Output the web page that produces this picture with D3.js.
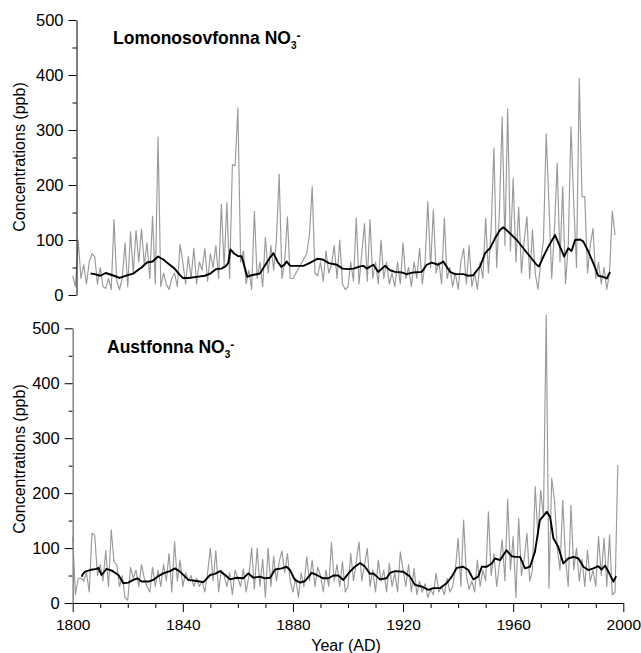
<!DOCTYPE html>
<html><head><meta charset="utf-8">
<script src="https://cdn.jsdelivr.net/npm/d3@7"></script>
<style>
body{margin:0;background:#fff}
svg{display:block}
text{font-family:"Liberation Sans",Arial,sans-serif;fill:#000}
</style>
</head><body>
<svg id="c" width="641" height="653"></svg>
<script>
// ---------- DATA ----------
const startYear = 1800;
// Lomonosovfonna NO3- annual values (ppb), 1800..1997 (null = no sample)
const lomoValues = [
 35,15,100,30,55,20,60,75,70,20,
 50,15,12,30,10,137,25,10,30,95,
 15,115,40,117,60,120,55,95,30,143,
 20,287,15,40,20,10,30,40,15,92,
 60,20,70,30,85,20,60,45,85,25,
 75,50,90,30,165,50,168,30,237,235,
 340,60,80,20,45,10,152,30,60,15,
 105,40,90,45,100,220,30,60,142,30,
 30,null,null,null,null,75,110,197,40,35,
 60,25,80,40,55,90,30,100,20,10,
 15,60,25,140,20,75,130,25,137,30,
 60,20,100,30,60,20,40,15,60,20,
 95,30,50,15,60,30,85,20,60,170,
 50,155,40,60,20,140,30,50,15,40,
 10,60,85,20,90,15,40,10,60,30,
 140,40,120,267,50,150,324,90,338,80,
 212,60,160,40,100,142,30,118,40,10,
 60,100,293,164,30,120,240,60,197,20,
 90,306,167,50,394,179,179,40,90,121,
 30,60,20,50,10,40,152,109
];
// Austfonna NO3- annual values (ppb), 1800..1998
const austValues = [
 120,15,45,45,40,55,20,127,123,50,
 70,40,95,30,133,75,70,30,50,10,
 5,65,45,60,30,70,45,30,20,65,
 30,60,30,70,40,90,20,112,40,78,
 30,55,40,50,30,45,30,40,20,55,
 100,40,95,20,60,50,30,55,15,60,
 45,30,62,20,50,100,25,100,30,80,
 10,100,30,85,40,75,95,55,90,40,
 20,45,10,55,30,84,40,78,30,65,
 50,20,60,30,110,40,70,30,75,20,
 30,90,40,75,111,40,70,99,30,60,
 20,78,40,60,20,72,30,55,20,93,
 60,30,70,20,63,15,40,20,35,10,
 25,15,54,20,30,15,45,20,30,60,
 118,30,151,50,25,40,20,78,30,60,
 40,166,50,90,30,70,115,40,189,60,
 121,10,154,50,80,127,40,60,212,120,
 205,157,524,27,227,187,100,60,187,80,
 30,178,60,100,40,80,30,96,40,60,
 30,121,50,118,30,124,15,20,251
];
// Running means
const lomoMeanYears = [1806.5,1808,1810,1812,1815,1817,1820,1822,1825,1827,1829,1831,1833,1835,1837,1839,1840,1842,1845,1848,1850,1852,1854,1855.5,1856.5,1857.3,1858.5,1860,1861.4,1863.4,1865,1868,1870,1871.5,1872.9,1874.5,1875.8,1877,1877.7,1879,1883.8,1886,1889,1891,1893,1896,1898,1900,1902,1904.4,1905.6,1906.8,1909.2,1911,1913.4,1915.3,1917.1,1919.5,1921.3,1923.7,1926.8,1928.6,1930.4,1932.8,1934.6,1937.1,1938.9,1941.9,1943.7,1945.5,1948,1949.8,1951.6,1953.4,1955.2,1956.4,1957.6,1959.5,1961.3,1963.7,1966.1,1968.5,1969.4,1971,1972.8,1975.2,1977,1978.5,1980,1981.2,1982.5,1984.3,1985.5,1987.3,1989.1,1990.9,1992.7,1994,1995.2];
const lomoMeanValues = [39,38,35,40,35,31,36,39,50,59,61,70,64,56,48,36,31,31,33,35,39,47,48,52,58,83,76,71,70,33,36,39,55,67,76,60,51,56,61,53,53,58,66,64,58,55,48,47,48,52,53,48,55,42,53,45,42,41,38,41,42,55,59,55,61,42,38,38,35,36,52,76,85,103,118,123,118,109,100,85,70,55,52,70,88,109,88,70,85,80,100,101,97,79,58,35,33,30,42];
const austMeanYears = [1803.3,1803.6,1804.5,1806.3,1808.7,1809.3,1810.5,1812.3,1814.2,1816.6,1818.4,1820.2,1822,1823.5,1825,1827.5,1829.3,1831.1,1832.9,1835.3,1837.2,1839,1840.8,1842,1845,1847.5,1849.9,1851.7,1853.5,1855.4,1857.1,1859.6,1862,1863.8,1865.6,1868,1869.8,1871.7,1873.5,1875.9,1877.7,1878.9,1880.7,1882.6,1884.4,1886.8,1888.6,1891,1892.9,1894.7,1896.5,1898.3,1900.7,1902.5,1904.4,1906.2,1908,1909.2,1911.6,1914,1915.3,1917.1,1920.1,1922.5,1924.3,1926.8,1929.2,1931,1933.4,1935.8,1937.7,1939.5,1941.9,1943.7,1945.5,1947.3,1948.6,1950.4,1952.2,1953.4,1955.2,1957.6,1959.5,1960.7,1962.5,1964.3,1966.1,1967.9,1969.7,1972.2,1973.4,1974.6,1976.4,1978.2,1980,1981.9,1983.7,1985.5,1987.3,1989.1,1990.9,1992.1,1993.4,1994.6,1996.4,1997.4];
const austMeanValues = [48,52,57,60,62,64,51,62,59,51,36,37,42,45,39,39,42,49,54,58,63,57,48,42,40,38,51,53,58,51,43,46,45,54,46,48,45,46,61,63,66,60,42,37,40,55,51,45,45,50,50,42,57,66,73,66,53,54,43,45,55,58,57,48,33,30,24,27,27,36,48,64,66,60,43,48,66,66,72,81,78,96,85,84,84,63,66,93,151,166,157,118,102,72,81,84,81,66,60,63,67,61,68,57,39,49];

const yTickValues = [0,100,200,300,400,500];
const yMinorValues = [50,150,250,350,450];
const xTickValues = [1800,1840,1880,1920,1960,2000];
const xMinorValues = [1810,1820,1830,1850,1860,1870,1890,1900,1910,1930,1940,1950,1970,1980,1990];
const titleNames = ["Lomonosovfonna NO", "Austfonna NO"];
const yLabel = "Concentrations (ppb)";
const xLabel = "Year (AD)";

// ---------- DRAW ----------
const svg = d3.select("#c");
const x = d3.scaleLinear().domain([1800, 2000]).range([72.7, 623.3]);

const panels = [
  {vals: lomoValues, my: lomoMeanYears, mv: lomoMeanValues, top: 20, bottom: 295, axisX: 76.5, axisColor: "#000", axisW: 1, title: titleNames[0], tx: 113, ty: 43.5, labelY: 157},
  {vals: austValues, my: austMeanYears, mv: austMeanValues, top: 328.3, bottom: 603, axisX: 72.7, axisColor: "#8a8a8a", axisW: 1.6, title: titleNames[1], tx: 107, ty: 352.5, labelY: 459}
];

panels.forEach((p, pi) => {
  const y = d3.scaleLinear().domain([0, 500]).range([p.bottom, p.top]);
  const g = svg.append("g");

  // raw series
  const pts = p.vals.map((v, i) => [startYear + i, v]).filter(d => d[1] !== null);
  g.append("path")
    .attr("d", d3.line().x(d => x(d[0])).y(d => y(d[1]))(pts))
    .attr("fill", "none").attr("stroke", "#999").attr("stroke-width", 1.15)
    .attr("stroke-linejoin", "round");

  // running mean
  const mpts = p.my.map((yr, i) => [yr, p.mv[i]]);
  g.append("path")
    .attr("d", d3.line().x(d => x(d[0])).y(d => y(d[1]))(mpts))
    .attr("fill", "none").attr("stroke", "#000").attr("stroke-width", 1.9)
    .attr("stroke-linejoin", "round");

  // y axis (minor)
  const yMinor = g.append("g").attr("transform", `translate(${p.axisX},0)`)
    .call(d3.axisLeft(y).tickValues(yMinorValues).tickSize(4).tickFormat(""));
  yMinor.select(".domain").remove();
  yMinor.selectAll("line").attr("stroke", "#000");
  // y axis (major)
  const yAx = g.append("g").attr("transform", `translate(${p.axisX},0)`)
    .call(d3.axisLeft(y).tickValues(yTickValues).tickSize(8).tickSizeOuter(0).tickPadding(5));
  yAx.select(".domain").attr("stroke", p.axisColor).attr("stroke-width", p.axisW);
  yAx.selectAll("line").attr("stroke", "#000");
  yAx.selectAll("text").style("font-size", "16.5px").style("font-family", "'Liberation Sans', Arial, sans-serif").attr("fill", "#000");

  // y label
  svg.append("text")
    .attr("transform", `translate(25,${p.labelY}) rotate(-90)`)
    .attr("text-anchor", "middle").style("font-size", "16px")
    .text(yLabel);

  // title
  const t = svg.append("text").attr("x", p.tx).attr("y", p.ty)
    .style("font-size", "17.5px").style("font-weight", "bold");
  t.append("tspan").text(p.title);
  t.append("tspan").text("3").style("font-size", "10px").attr("dy", 5);
  t.append("tspan").text("-").style("font-size", "12px").attr("dy", -9);

  if (pi === 1) {
    const xMinor = svg.append("g").attr("transform", `translate(0,${p.bottom})`)
      .call(d3.axisBottom(x).tickValues(xMinorValues).tickSize(5).tickFormat(""));
    xMinor.select(".domain").remove();
    xMinor.selectAll("line").attr("stroke", "#000");
    const xAx = svg.append("g").attr("transform", `translate(0,${p.bottom})`)
      .call(d3.axisBottom(x).tickValues(xTickValues).tickSize(9).tickSizeOuter(0).tickPadding(7).tickFormat(d3.format("d")));
    xAx.select(".domain").attr("stroke", "#000").attr("stroke-width", 1);
    xAx.selectAll("line").attr("stroke", "#000");
    xAx.selectAll("text").style("font-size", "15.5px").style("font-family", "'Liberation Sans', Arial, sans-serif").attr("fill", "#000");

    svg.append("text").attr("x", 346).attr("y", 651)
      .attr("text-anchor", "middle").style("font-size", "16px").text(xLabel);
  }
});
</script>
</body></html>
